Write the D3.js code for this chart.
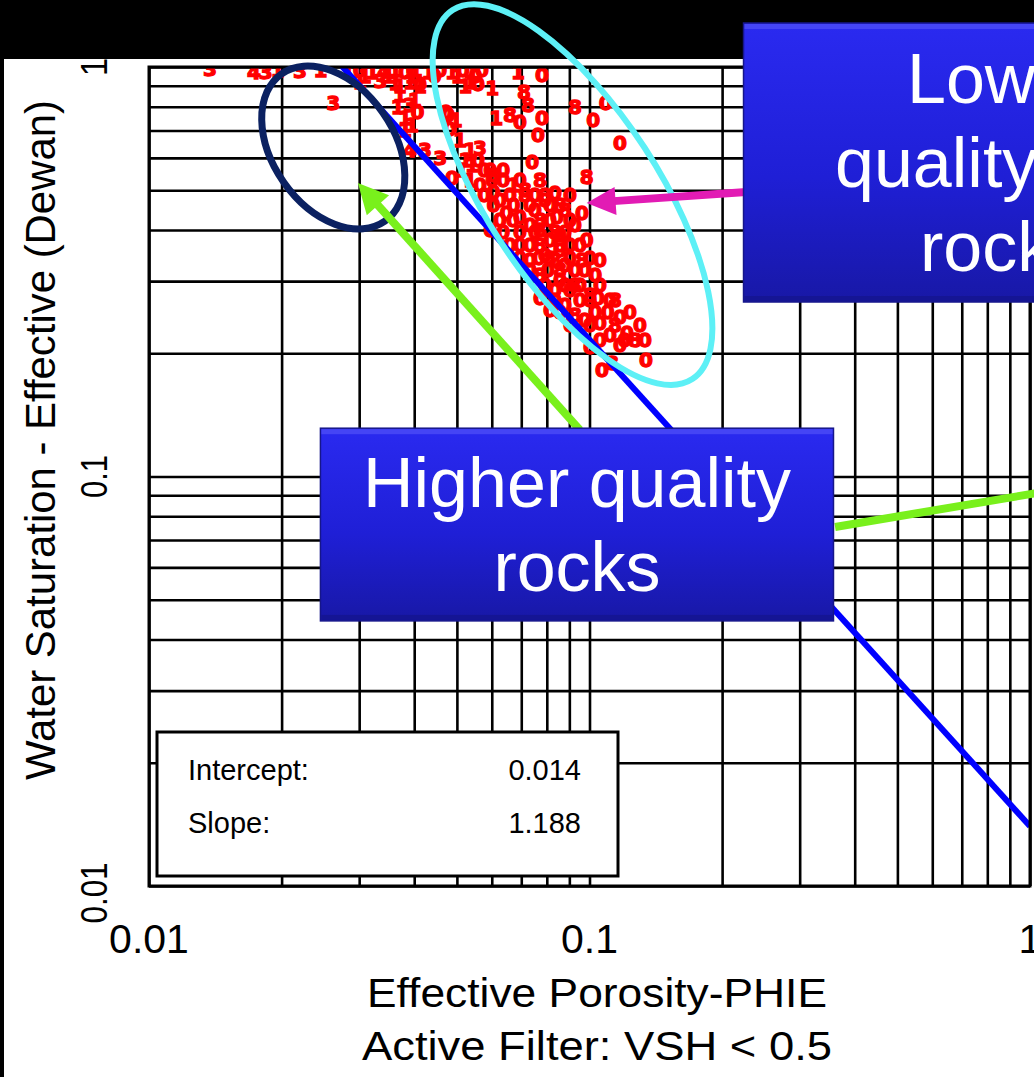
<!DOCTYPE html>
<html><head><meta charset="utf-8">
<script src="https://cdn.jsdelivr.net/npm/d3@7/dist/d3.min.js"></script>
<style>body{margin:0;background:#000;}svg{display:block;}</style>
</head><body>
<svg id="chart" width="1034" height="1077"></svg>
<script>
// ---------------- DATA ----------------
const xTickValues = [0.01, 0.1, 1];
const xTickLabels = ["0.01", "0.1", "1"];
const yTickValues = [0.01, 0.1, 1];
const yTickLabels = ["0.01", "0.1", "1"];

const xTitleLines = ["Effective Porosity-PHIE", "Active Filter: VSH < 0.5"];
const yTitle = "Water Saturation - Effective (Dewan)";

const fitIntercept = 0.014;
const fitSlope = 1.188;
const legendLabels = ["Intercept:", "Slope:"];
const legendValues = ["0.014", "1.188"];

// Effective porosity (PHIE) of each plotted sample
const porosity = [
  0.01375,0.0173,0.0184,0.0196,0.0220,0.0245,0.0283,0.0301,0.0321,0.0342,0.0362,0.0381,0.0403,0.0431,0.0458,0.0487,0.0516,0.0542,0.0570,
  0.0301,0.0335,0.0362,0.0391,0.0412,0.0536,0.0558,
  0.0309,0.0349,0.0395,0.0445,0.0502,0.0551,0.0371,0.0412,0.0522,0.0401,0.0381,0.0478,
  0.0371,0.0391,0.0381,0.0407,0.0395,0.0367,0.0472,0.0497,0.0482,0.0262,
  0.0601,0.0688,0.0780,0.0710,0.0725,0.0780,0.0927,0.1019,0.1088,0.1173,0.0764,0.0741,0.0985,0.0961,
  0.0614,0.0660,0.0695,0.0564,0.0508,0.0536,0.0458,0.0487,0.0423,0.0391,
  0.0541,0.0577,0.0605,0.0637,0.0672,0.0564,0.0605,0.0714,0.0752,0.0792,0.0835,0.0844,0.0880,
  0.0595,0.0648,0.0695,0.0733,0.0772,0.0813,0.0857,0.0903,0.0792,0.0835,0.0880,0.0927,0.0961,0.1056,
  0.0857,0.0903,0.0951,0.1003,0.0772,0.0813,0.0880,0.0927,0.0975,0.1045,0.1056,0.1173,0.1217,
  0.1003,0.1124,0.1067,0.1344,0.0985,0.1113,0.1268,0.0695,0.0733,0.0772,0.0835,
  0.0626,0.0672,0.0752,0.0927,0.0857,0.1030,0.1113,0.1173,
  0.0523,0.0558,0.0513,0.0595,0.0637,0.0536,0.0601,0.0695,0.0772,
  0.0577,0.0660,0.0714,0.0792,0.0903,0.0605,0.0733,0.0813,0.0857,
  0.0626,0.0670,0.0772,0.0813,0.0903,0.0637,0.0695,0.0752,0.0835,0.0880,
  0.0660,0.0733,0.0772,0.0857,0.0951,0.0695,0.0768,0.0813,0.0903,0.1003,
  0.0733,0.0805,0.0857,0.0975,0.0792,0.0880,0.0927,0.1056,
  0.0835,0.0951,0.1003,0.1143,0.0857,0.1030,0.1100,0.1236,
  0.0903,0.1003,0.1143,0.1302,0.1056,0.1200,0.1336
];
// Effective water saturation (Dewan) of each sample
const saturation = [
  0.99,0.975,0.975,0.985,0.98,0.985,0.98,0.985,0.975,0.98,0.985,0.975,0.985,0.975,0.985,0.975,0.985,0.975,0.985,
  0.92,0.925,0.915,0.92,0.91,0.92,0.91,
  0.95,0.95,0.95,0.95,0.95,0.95,0.90,0.90,0.90,0.831,0.702,0.763,
  0.854,0.808,0.751,0.776,0.722,0.799,0.776,0.742,0.706,0.817,
  0.889,0.973,0.956,0.869,0.808,0.751,0.799,0.742,0.817,0.652,0.682,0.586,0.539,0.440,
  0.751,0.763,0.734,0.634,0.663,0.627,0.600,0.536,0.627,0.627,
  0.576,0.560,0.545,0.530,0.515,0.515,0.495,0.501,0.487,0.473,0.493,0.431,0.447,
  0.400,0.440,0.431,0.411,0.400,0.378,0.389,0.367,0.347,0.338,0.328,0.319,0.338,0.338,
  0.302,0.285,0.294,0.277,0.273,0.255,0.262,0.248,0.241,0.273,0.237,0.245,0.224,
  0.207,0.189,0.182,0.193,0.378,0.222,0.215,0.367,0.338,0.310,0.285,
  0.473,0.460,0.447,0.411,0.357,0.310,0.270,0.209,
  0.593,0.593,0.560,0.560,0.560,0.530,0.530,0.530,0.530,
  0.487,0.487,0.487,0.487,0.487,0.460,0.460,0.460,0.460,
  0.423,0.423,0.423,0.423,0.423,0.396,0.396,0.396,0.396,0.396,
  0.367,0.367,0.367,0.367,0.367,0.341,0.341,0.341,0.341,0.341,
  0.319,0.319,0.319,0.319,0.294,0.294,0.294,0.294,
  0.270,0.270,0.270,0.270,0.252,0.252,0.252,0.252,
  0.234,0.234,0.234,0.234,0.215,0.215,0.215
];
// Plot symbol (zone code) of each sample
const zoneCode = [
  "3","4","3","1","3","1","1","0","1","4","1","0","1","1","0","1","0","1","0",
  "1","3","1","1","0","1","0",
  "1","1","1","0","1","0","1","1","1","1","1","0",
  "1","3","1","0","1","1","0","1","0","3",
  "1","1","0","8","8","0","8","0","0","0","0","0","8","0",
  "1","8","0","3","1","1","3","0","3","4",
  "1","0","8","0","1","0","0","8","0","0","0","0","8",
  "0","0","0","0","8","0","0","0","0","8","0","0","8","0",
  "0","0","0","8","0","0","0","8","0","0","0","0","0",
  "0","8","0","0","0","0","8","0","0","8","0",
  "0","0","0","0","0","0","0","0",
  "1","0","1","0","0","1","0","0","8",
  "0","0","8","0","0","0","0","0","8",
  "0","0","8","0","0","0","0","0","8","0",
  "0","0","8","0","0","0","0","8","0","0",
  "0","0","8","0","0","0","8","0",
  "0","0","0","8","0","0","0","0",
  "0","0","8","0","0","0","0"
];

// Slide annotations (in data units of the plot)
const darkEllipse = {phi: 0.0262, sw: 0.636};
const cyanEllipse = {phi: 0.0915, sw: 0.488};
const greenArrowA = {from: [0.0951, 0.130], to: [0.0298, 0.521]};
const greenArrowB = {from: [0.361, 0.0753], to: [1.06, 0.0915]};
const magentaArrow = {from: [0.245, 0.498], to: [0.0985, 0.4655]};
const higherBox = {text: ["Higher quality", "rocks"]};
const lowerBox = {text: ["Lower", "quality", "rocks"]};

// ---------------- LAYOUT ----------------
const W = 1034, H = 1077;
const L = 149, R = 1030, T = 67, B = 886;
const svg = d3.select("#chart");
const font = "'Liberation Sans', Arial, Helvetica, sans-serif";

const x = d3.scaleLog().domain([0.01, 1]).range([L, R]);
const y = d3.scaleLog().domain([0.01, 1]).range([B, T]);

// backgrounds
svg.append("rect").attr("x",0).attr("y",0).attr("width",W).attr("height",H).attr("fill","#000");
svg.append("rect").attr("x",4).attr("y",59).attr("width",W-4).attr("height",H-59).attr("fill","#fff");

const defs = svg.append("defs");
defs.append("clipPath").attr("id","plotclip").append("rect")
  .attr("x",L).attr("y",T).attr("width",R-L).attr("height",B-T);
const grad = defs.append("linearGradient").attr("id","boxg").attr("x1",0).attr("y1",0).attr("x2",0).attr("y2",1);
grad.append("stop").attr("offset","0%").attr("stop-color","#2a2af0");
grad.append("stop").attr("offset","55%").attr("stop-color","#1f1fd6");
grad.append("stop").attr("offset","100%").attr("stop-color","#1818a6");

// grid
const gridX = svg.append("g").attr("transform",`translate(0,${B})`)
  .call(d3.axisBottom(x).ticks(10).tickSize(-(B-T)).tickFormat(""));
const gridY = svg.append("g").attr("transform",`translate(${L},0)`)
  .call(d3.axisLeft(y).ticks(10).tickSize(-(R-L)).tickFormat(""));
[gridX, gridY].forEach(g => {
  g.select(".domain").remove();
  g.selectAll("line").attr("stroke","#000").attr("stroke-width",2.6);
});

// data points
const pts = porosity.map((p,i)=>({p, s: saturation[i], c: zoneCode[i]}));
const plot = svg.append("g").attr("clip-path","url(#plotclip)");
plot.selectAll("text.pt").data(pts).join("text")
  .attr("class","pt")
  .attr("x", d => x(d.p)).attr("y", d => y(d.s))
  .attr("text-anchor","middle").attr("dominant-baseline","central")
  .attr("font-family","'DejaVu Sans', sans-serif").attr("font-weight","bold")
  .attr("font-size",20).attr("fill","#ff0000")
  .attr("stroke","#ff0000").attr("stroke-width",1.3)
  .text(d => d.c);

// regression line Sw = a * phi^-m
const fitLine = d3.line().x(d => x(d)).y(d => y(fitIntercept * Math.pow(d, -fitSlope)));
plot.append("path").datum(x.domain())
  .attr("d", fitLine).attr("fill","none").attr("stroke","#0000ff").attr("stroke-width",6);

// frame
svg.append("rect").attr("x",L).attr("y",T).attr("width",R-L).attr("height",B-T)
  .attr("fill","none").attr("stroke","#000").attr("stroke-width",3);

// legend box
svg.append("rect").attr("x",157).attr("y",732).attr("width",461).attr("height",144)
  .attr("fill","#fff").attr("stroke","#000").attr("stroke-width",3);
legendLabels.forEach((t,i)=>{
  svg.append("text").attr("x",188).attr("y",780 + i*53).attr("font-family",font)
    .attr("font-size",29).attr("fill","#000").text(t);
  svg.append("text").attr("x",581).attr("y",780 + i*53).attr("font-family",font)
    .attr("text-anchor","end").attr("font-size",29).attr("fill","#000").text(legendValues[i]);
});

// tick labels
svg.selectAll("text.xl").data(xTickValues).join("text").attr("class","xl")
  .attr("x", d => x(d)).attr("y", 953).attr("text-anchor","middle")
  .attr("font-family",font).attr("font-size",41).attr("fill","#000")
  .text((d,i)=>xTickLabels[i]);
svg.selectAll("text.yl").data(yTickValues).join("text").attr("class","yl")
  .attr("transform", (d,i) => `translate(107,${y(d) + (i===0 ? 7 : 0)}) rotate(-90)`)
  .attr("text-anchor","middle")
  .attr("font-family",font).attr("font-size",37).attr("fill","#000")
  .attr("textLength",(d,i)=> i===0 ? 61 : (i===1 ? 43 : 18)).attr("lengthAdjust","spacingAndGlyphs")
  .text((d,i)=>yTickLabels[i]);

// axis titles
xTitleLines.forEach((t,i)=>{
  svg.append("text").attr("x",597).attr("y",1007 + i*53).attr("text-anchor","middle")
    .attr("font-family",font).attr("font-size",41).attr("fill","#000")
    .attr("textLength", i===0 ? 460 : 470).attr("lengthAdjust","spacingAndGlyphs")
    .text(t);
});
svg.append("text").attr("transform","translate(55,440) rotate(-90)").attr("text-anchor","middle")
  .attr("font-family",font).attr("font-size",43).attr("fill","#000")
  .attr("textLength",680).attr("lengthAdjust","spacingAndGlyphs").text(yTitle);

// ---------------- ANNOTATIONS ----------------
function ellipse(c, rx, ry, ang, color, sw){
  const cx = x(c.phi), cy = y(c.sw);
  svg.append("ellipse").attr("cx",cx).attr("cy",cy).attr("rx",rx).attr("ry",ry)
    .attr("transform",`rotate(${ang},${cx},${cy})`)
    .attr("fill","none").attr("stroke",color).attr("stroke-width",sw);
}
function arrow(a, color, w, head, hw, withHead){
  const x1 = x(a.from[0]), y1 = y(a.from[1]), x2 = x(a.to[0]), y2 = y(a.to[1]);
  const dx = x2-x1, dy = y2-y1, len = Math.hypot(dx,dy), ux = dx/len, uy = dy/len;
  const bx = withHead ? x2 - ux*head : x2, by = withHead ? y2 - uy*head : y2;
  svg.append("line").attr("x1",x1).attr("y1",y1).attr("x2",bx+ux*2).attr("y2",by+uy*2)
    .attr("stroke",color).attr("stroke-width",w);
  if (withHead) {
    svg.append("polygon").attr("points",
      [[x2,y2],[bx - uy*hw, by + ux*hw],[bx + uy*hw, by - ux*hw]].map(p=>p.join(",")).join(" "))
      .attr("fill",color);
  }
}
ellipse(darkEllipse, 90, 60.5, 55, "#0b2161", 7);
ellipse(cyanEllipse, 220, 86, 57, "#5df0f6", 6);
arrow(magentaArrow, "#e21bb4", 8, 29, 14, true);
arrow(greenArrowA, "#79f01c", 8, 30, 15, true);
arrow(greenArrowB, "#79f01c", 8, 0, 0, false);

function callout(x0, y0, x1, y1, lines, cx, base, starts){
  const g = svg.append("g");
  g.append("rect").attr("x",x0).attr("y",y0).attr("width",x1-x0).attr("height",y1-y0)
    .attr("fill","url(#boxg)").attr("stroke","#16168a").attr("stroke-width",1.5);
  g.append("rect").attr("x",x0+1).attr("y",y0+1).attr("width",x1-x0-2).attr("height",5)
    .attr("fill","#4c4cf6").attr("opacity",0.8);
  g.append("rect").attr("x",x0+1).attr("y",y1-6).attr("width",x1-x0-2).attr("height",5)
    .attr("fill","#14148c").attr("opacity",0.7);
  lines.forEach((t,i)=>{
    g.append("text").attr("x", starts ? starts[i] : cx).attr("y", base + i*84)
      .attr("text-anchor", starts ? "start" : "middle")
      .attr("font-family",font).attr("font-size",70).attr("fill","#fff").text(t);
  });
}
callout(x(0.0245), y(0.1312), x(0.358), y(0.0444), higherBox.text, 577, 507, null);
callout(x(0.2237), 23, 1100, 302, lowerBox.text, 0, 103, [907, 835, 920]);

// left strip
svg.append("rect").attr("x",0).attr("y",0).attr("width",4).attr("height",H).attr("fill","#000");
</script>
</body></html>
